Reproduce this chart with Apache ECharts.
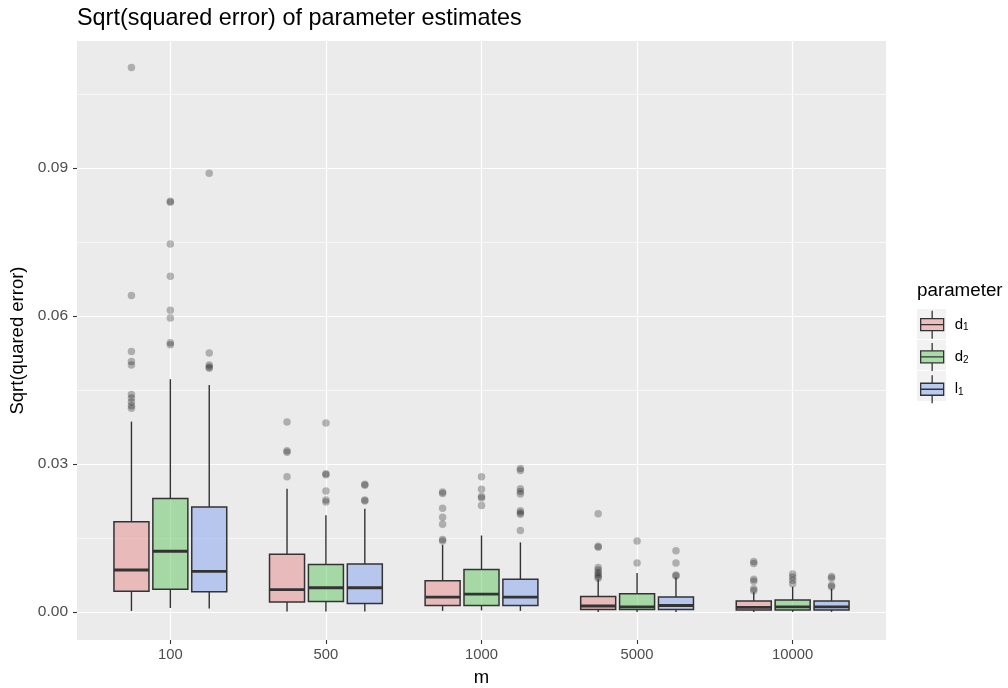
<!DOCTYPE html>
<html>
<head>
<meta charset="utf-8">
<script src="https://cdn.jsdelivr.net/npm/echarts@6/dist/echarts.min.js"></script>
<style>
  html, body { margin: 0; padding: 0; background: #ffffff; }
  #chart { width: 1008px; height: 688px; }
</style>
</head>
<body>
<div id="chart"></div>
<script>
// ---- data -------------------------------------------------------------
const categories = ['100', '500', '1000', '5000', '10000'];
const parameters = ['d1', 'd2', 'l1'];

// per m: [lower whisker, Q1, median, Q3, upper whisker]
const statsD1 = [
  [0.0002, 0.0042, 0.0085, 0.0183, 0.0386],
  [0.0001, 0.0020, 0.0045, 0.0117, 0.0250],
  [0.0002, 0.0013, 0.0030, 0.0063, 0.0136],
  [0.0000, 0.0005, 0.0012, 0.0031, 0.0066],
  [0.0000, 0.0004, 0.0009, 0.0022, 0.0040]
];
const statsD2 = [
  [0.0008, 0.0046, 0.0123, 0.0230, 0.0472],
  [0.0001, 0.0021, 0.0049, 0.0096, 0.0196],
  [0.0003, 0.0013, 0.0036, 0.0086, 0.0155],
  [0.0000, 0.0005, 0.0010, 0.0037, 0.0079],
  [0.0000, 0.0004, 0.0010, 0.0024, 0.0051]
];
const statsL1 = [
  [0.0007, 0.0041, 0.0082, 0.0213, 0.0460],
  [0.0001, 0.0017, 0.0049, 0.0097, 0.0209],
  [0.0002, 0.0013, 0.0030, 0.0066, 0.0141],
  [0.0000, 0.0005, 0.0013, 0.0030, 0.0070],
  [0.0000, 0.0004, 0.0010, 0.0022, 0.0047]
];

// points beyond the whiskers, per m
const outliersD1 = [
  [0.1104, 0.0642, 0.0528, 0.0508, 0.0501, 0.0441, 0.0434, 0.0426, 0.0418, 0.0413],
  [0.0385, 0.0327, 0.0324, 0.0274],
  [0.0243, 0.0240, 0.0210, 0.0192, 0.0178, 0.0147, 0.0144],
  [0.0199, 0.0133, 0.0131, 0.0090, 0.0085, 0.0080, 0.0076, 0.0072, 0.0068],
  [0.0102, 0.0098, 0.0066, 0.0062, 0.0047, 0.0043]
];
const outliersD2 = [
  [0.0833, 0.0831, 0.0746, 0.0681, 0.0612, 0.0596, 0.0546, 0.0542],
  [0.0383, 0.0280, 0.0278, 0.0245, 0.0227, 0.0223],
  [0.0274, 0.0249, 0.0234, 0.0231, 0.0216],
  [0.0144, 0.0099],
  [0.0077, 0.0071, 0.0064, 0.0057]
];
const outliersL1 = [
  [0.0890, 0.0525, 0.0501, 0.0497, 0.0494],
  [0.0259, 0.0257, 0.0227, 0.0225],
  [0.0291, 0.0287, 0.0250, 0.0244, 0.0239, 0.0205, 0.0201, 0.0198, 0.0165],
  [0.0124, 0.0099, 0.0075, 0.0073],
  [0.0072, 0.0068, 0.0054, 0.0051]
];

const yTicks = [0, 0.03, 0.06, 0.09];
const yMinorTicks = [0.015, 0.045, 0.075, 0.105];

// ---- styling ------------------------------------------------------------
const FONT = 'Liberation Sans, Arial, Helvetica, sans-serif';
const OUTLINE = '#333333';
const FILLS = ['rgba(229,137,137,0.5)', 'rgba(97,197,97,0.5)', 'rgba(129,161,237,0.5)'];
const DODGE = [-0.25, 0, 0.25];     // group offsets inside each m
const BOX_WIDTH = 0.225;            // in category units
const statsByParam = [statsD1, statsD2, statsL1];
const outliersByParam = [outliersD1, outliersD2, outliersL1];
const xTicks = categories.map((_, i) => i);

function boxRenderer(dodge, fill) {
  return function (params, api) {
    const x = api.value(0) + dodge;
    const lo = api.coord([x, api.value(1)]);
    const q1 = api.coord([x, api.value(2)]);
    const md = api.coord([x, api.value(3)]);
    const q3 = api.coord([x, api.value(4)]);
    const hi = api.coord([x, api.value(5)]);
    const half = api.size([BOX_WIDTH, 0])[0] / 2;
    const lineStyle = { stroke: OUTLINE, lineWidth: 1.4 };
    return {
      type: 'group',
      children: [
        { type: 'line', shape: { x1: hi[0], y1: hi[1], x2: q3[0], y2: q3[1] }, style: lineStyle },
        { type: 'line', shape: { x1: q1[0], y1: q1[1], x2: lo[0], y2: lo[1] }, style: lineStyle },
        { type: 'rect',
          shape: { x: q3[0] - half, y: q3[1], width: 2 * half, height: q1[1] - q3[1] },
          style: { fill: fill, stroke: OUTLINE, lineWidth: 1.5 } },
        { type: 'line', shape: { x1: md[0] - half, y1: md[1], x2: md[0] + half, y2: md[1] },
          style: { stroke: OUTLINE, lineWidth: 2.8 } }
      ]
    };
  };
}

const series = [];
parameters.forEach((name, p) => {
  series.push({
    name: name + ' outliers',
    type: 'scatter',
    data: outliersByParam[p].flatMap((vals, i) => vals.map(v => [i + DODGE[p], v])),
    symbol: 'circle',
    symbolSize: 7.5,
    itemStyle: { color: 'rgba(0,0,0,0.32)' },
    z: 2
  });
});
parameters.forEach((name, p) => {
  series.push({
    name: name,
    type: 'custom',
    renderItem: boxRenderer(DODGE[p], FILLS[p]),
    data: statsByParam[p].map((s, i) => [i].concat(s)),
    encode: { x: 0, y: [1, 2, 3, 4, 5] },
    itemStyle: { color: FILLS[p] },
    z: 3
  });
});

// legend layout
const LEG_LEFT = 920, LEG_TOP = 310, KEY_W = 23, KEY_H = 28, KEY_GAP = 3;
const BOX_ICON = 'path://M11.5,0L11.5,8M0,8L23,8L23,20L0,20ZM0,14L23,14M11.5,20L11.5,28';
const subLabel = { d1: '{t|d}{s|1}', d2: '{t|d}{s|2}', l1: '{t|l}{s|1}' };

const chart = echarts.init(document.getElementById('chart'), null, { renderer: 'canvas' });
chart.setOption({
  animation: false,
  backgroundColor: '#ffffff',
  textStyle: { fontFamily: FONT },
  title: [
    { text: 'Sqrt(squared error) of parameter estimates', left: 77, top: 7, padding: 0,
      textStyle: { fontFamily: FONT, fontSize: 23.4, fontWeight: 'normal', color: '#000000' } },
    { text: 'parameter', left: 917, top: 281, padding: 0,
      textStyle: { fontFamily: FONT, fontSize: 18.8, fontWeight: 'normal', color: '#000000' } }
  ],
  grid: {
    left: 77, right: 122, top: 41, bottom: 48,
    show: true, backgroundColor: '#EBEBEB', borderWidth: 0,
    containLabel: false, outerBoundsMode: 'none'
  },
  xAxis: {
    type: 'value', min: -0.6, max: 4.6,
    name: 'm', nameLocation: 'middle', nameGap: 28,
    nameTextStyle: { fontFamily: FONT, fontSize: 18.5, color: '#000000', verticalAlign: 'top' },
    axisLine: { show: false, onZero: false },
    axisTick: { show: true, length: 4, customValues: xTicks,
      lineStyle: { color: '#333333', width: 1.1 } },
    axisLabel: { customValues: xTicks, margin: 7,
      formatter: v => categories[Math.round(v)],
      fontFamily: FONT, fontSize: 14.8, color: '#4D4D4D' },
    splitLine: { show: true, lineStyle: { color: '#FFFFFF', width: 1.2 } }
  },
  yAxis: [
    {
      type: 'value', min: -0.0057, max: 0.1158,
      name: 'Sqrt(quared error)', nameLocation: 'middle', nameGap: 45, nameRotate: 90,
      nameTextStyle: { fontFamily: FONT, fontSize: 18.5, color: '#000000' },
      axisLine: { show: false, onZero: false },
      axisTick: { show: true, length: 4, customValues: yTicks,
        lineStyle: { color: '#333333', width: 1.1 } },
      axisLabel: { customValues: yTicks, margin: 9,
        formatter: v => v.toFixed(2),
        fontFamily: FONT, fontSize: 15.5, color: '#4D4D4D' },
      splitLine: { show: true, lineStyle: { color: '#FFFFFF', width: 1.2 } }
    },
    {
      type: 'value', min: -0.0057, max: 0.1158,
      axisLine: { show: false, onZero: false },
      axisTick: { show: false, customValues: yMinorTicks },
      axisLabel: { show: false, customValues: yMinorTicks },
      splitLine: { show: true, lineStyle: { color: '#FFFFFF', width: 0.6 } }
    }
  ],
  legend: {
    orient: 'vertical', left: LEG_LEFT, top: LEG_TOP, padding: 0,
    itemWidth: KEY_W, itemHeight: KEY_H, itemGap: KEY_GAP,
    selectedMode: false,
    data: parameters.map((name, p) => ({
      name: name, icon: BOX_ICON,
      itemStyle: { color: FILLS[p], borderColor: OUTLINE, borderWidth: 1.3 }
    })),
    formatter: name => subLabel[name],
    textStyle: {
      fontFamily: FONT, color: '#000000', padding: [0, 0, 0, 6],
      rich: {
        t: { fontFamily: FONT, fontSize: 15, color: '#000000' },
        s: { fontFamily: FONT, fontSize: 10, color: '#000000', verticalAlign: 'bottom', padding: [6, 0, 0, 0] }
      }
    }
  },
  graphic: parameters.map((_, p) => ({
    type: 'rect', z: -1,
    shape: { x: LEG_LEFT - 3, y: LEG_TOP - 1 + p * (KEY_H + KEY_GAP), width: KEY_W + 6, height: KEY_H + 2 },
    style: { fill: '#F2F2F2' }
  })),
  series: series
});
</script>
</body>
</html>
